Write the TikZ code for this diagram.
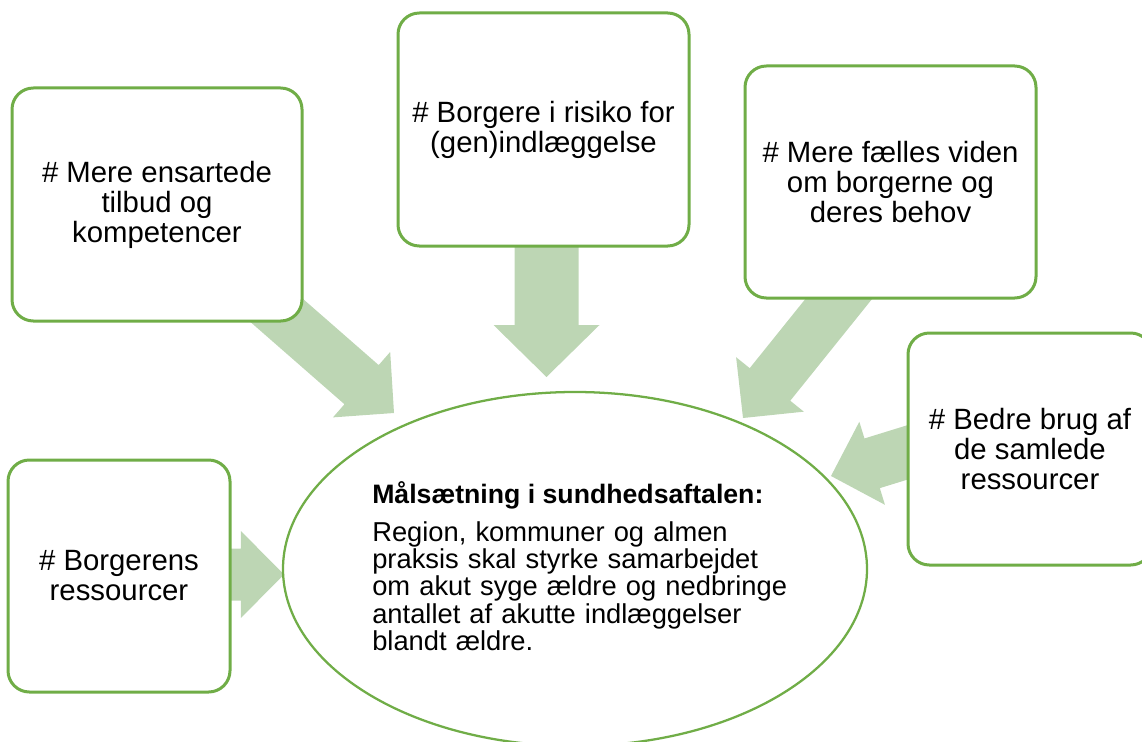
\documentclass[tikz,border=0pt]{standalone}
\usepackage{fontspec}
\setmainfont{Liberation Sans}
\usetikzlibrary{calc,shapes.geometric}

\definecolor{boxgreen}{HTML}{70AD47}
\definecolor{arrowgreen}{RGB}{189,214,180}

\tikzset{
	goalbox/.style={draw=boxgreen, fill=white, line width=2.25pt, rounded corners=16pt, inner sep=0pt, align=center, font=\fontsize{22}{22.5}\selectfont},
	goalellipse/.style={ellipse, draw=boxgreen, fill=white, line width=1.7pt, inner sep=0pt, minimum width=438pt, minimum height=265.5pt},
}

\begin{document}
\begin{tikzpicture}[x=0.75pt,y=-0.75pt]
	% Parameters
	\def\sw{19.5pt}
	\def\hw{32.6pt}
	\def\hl{32.3pt}
	\def\swbig{24pt}
	\def\hwbig{39.75pt}
	\def\hlbig{39pt}
	
	\clip (0,0) rectangle (1142,742);
	
	%arrow ends
	\coordinate (s1) at (251,288);
	\coordinate (t1) at (394,413);
	\coordinate (s2) at (546.5,235);
	\coordinate (t2) at (546.5,377);
	\coordinate (s3) at (862,270);
	\coordinate (t3) at (743,418);
	\coordinate (s4) at (945.6,440.6);
	\coordinate (t4) at (831,476);
	\coordinate (s5) at (200,574.5);
	\coordinate (t5) at (284,574.5);
	
	%arrows
	\foreach \s/\t/\w/\h/\l in {s1/t1/\sw/\hw/\hl, s2/t2/\swbig/\hwbig/\hlbig, s3/t3/\sw/\hw/\hl, s4/t4/\sw/\hw/\hl, s5/t5/\sw/\hw/\hl} {
		\coordinate (hb) at ($(\t)!\l!(\s)$);
		\fill[arrowgreen] ($(\s)!\w!90:(\t)$) -- ($(hb)!\w!90:(\t)$) -- ($(hb)!\h!90:(\t)$) -- (\t)
			-- ($(hb)!\h!-90:(\t)$) -- ($(hb)!\w!-90:(\t)$) -- ($(\s)!\w!-90:(\t)$) -- cycle;
	}
	
	%boxes
	\node[goalbox, minimum width=217.5pt, minimum height=174.75pt] (ensartet) at (157,204.5) {\# Mere ensartede\\tilbud og\\kompetencer};
	\node[goalbox, minimum width=218.25pt, minimum height=174.75pt] (risiko) at (543.5,129.5) {\# Borgere i risiko for\\(gen)indlæggelse};
	\node[goalbox, minimum width=218.25pt, minimum height=174pt] (viden) at (890.5,182) {\# Mere fælles viden\\om borgerne og\\deres behov};
	\node[goalbox, minimum width=183pt, minimum height=174pt] (brug) at (1030,449) {\# Bedre brug af\\de samlede\\ressourcer};
	\node[goalbox, minimum width=166.5pt, minimum height=174pt] (borger) at (119,576) {\# Borgerens\\ressourcer};
	
	%goal
	\node[goalellipse] (maal) at (575,569) {};
	\node[anchor=base west, inner sep=0pt, font=\bfseries\fontsize{20}{20.5}\selectfont] (maaltitel) at (372,503) {Målsætning i sundhedsaftalen:};
	\node[anchor=base west, inner sep=0pt, text width=350pt, align=left, font=\fontsize{20.5}{20.5}\selectfont] (maaltekst) at (372,541) {Region, kommuner og almen\\praksis skal styrke samarbejdet\\om akut syge ældre og nedbringe\\antallet af akutte indlæggelser\\blandt ældre.};
	
\end{tikzpicture}
\end{document}
